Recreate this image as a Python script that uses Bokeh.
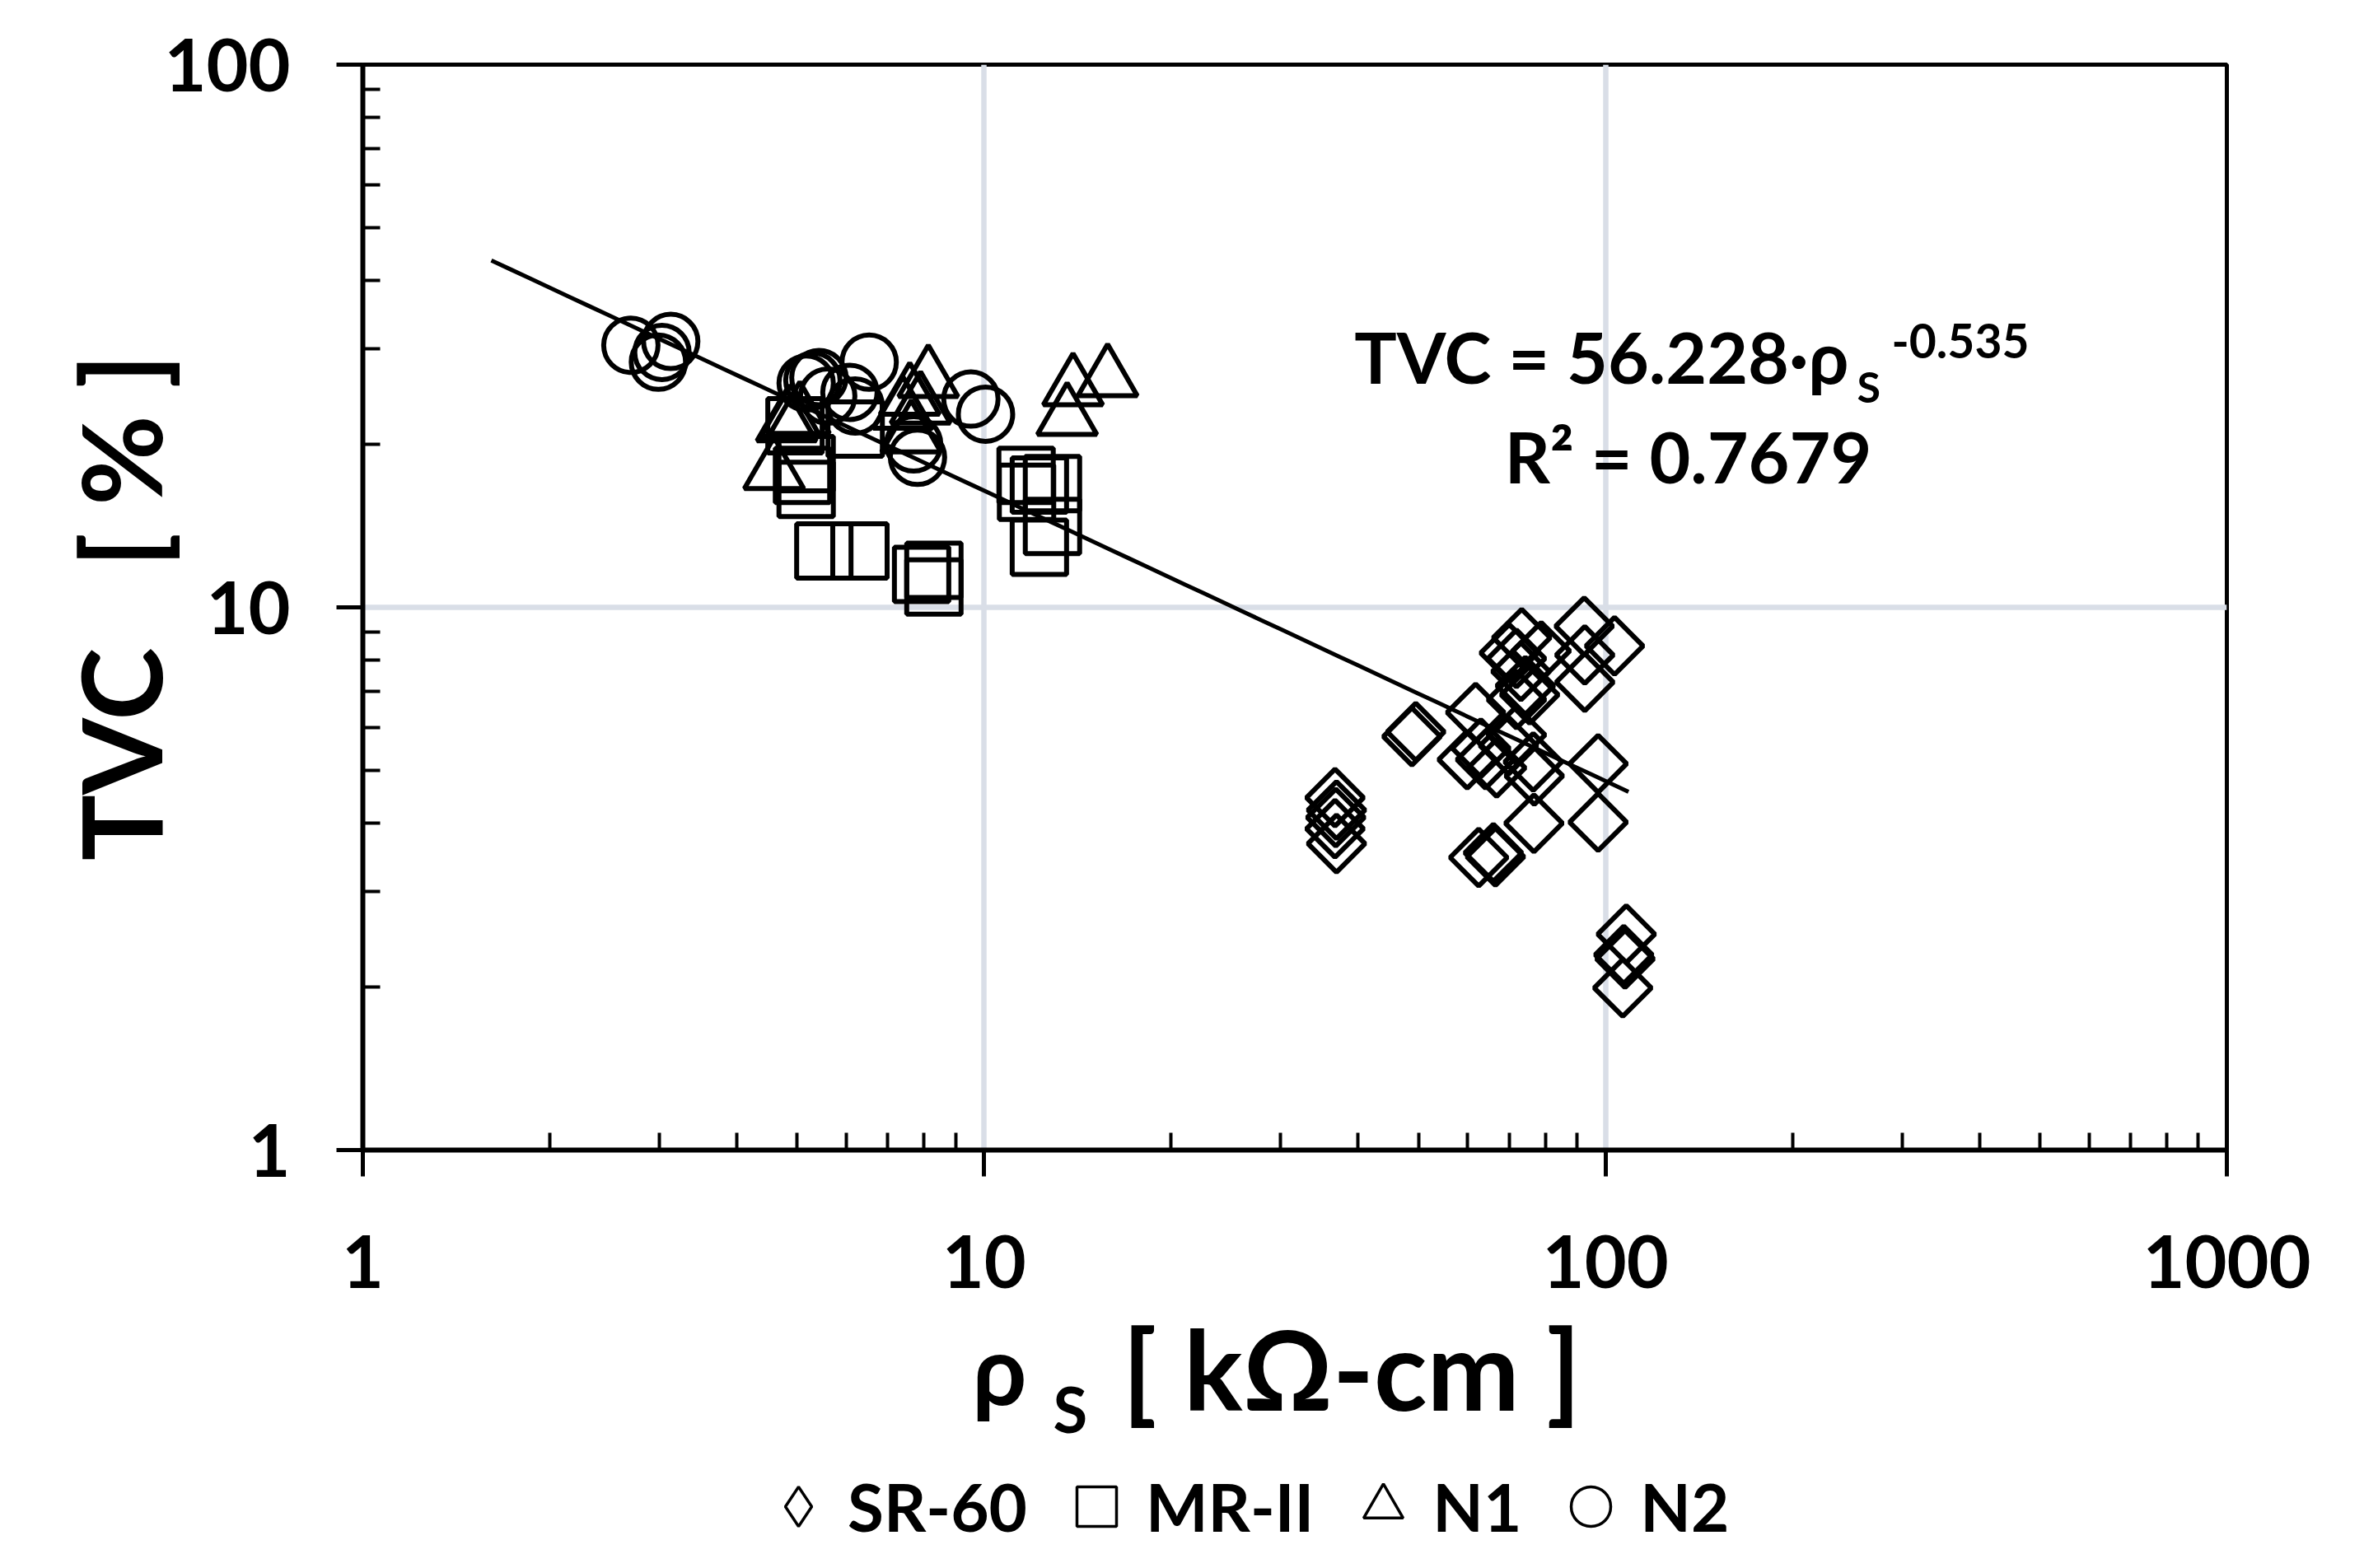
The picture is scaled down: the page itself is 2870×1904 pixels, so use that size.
import numpy as np
from bokeh.plotting import figure
from bokeh.layouts import column
from bokeh.models import FixedTicker, PrintfTickFormatter, Label, Legend, LegendItem
from bokeh.embed import file_html
from bokeh.resources import INLINE

FONT = "Lato, 'Open Sans', sans-serif"

# ---------------- data ----------------
series_names = ["SR-60", "MR-II", "N1", "N2"]

sr60_x = [48.8, 49.5, 36.7, 36.9, 36.7, 36.9, 36.8, 62.5, 66.0, 66.5, 76.7, 97.3, 97.3,
          61.8, 64.1, 66.8, 69.8, 76.5, 71.9, 76.8, 59.9, 63.0, 73.3, 78.8, 71.9, 73.1,
          74.3, 71.9, 70.0, 75.5, 92.4, 103.4, 92.6, 92.6, 108.0, 107.0, 107.5, 106.6]
sr60_y = [5.78, 5.90, 4.46, 4.23, 3.91, 3.67, 4.10, 3.46, 3.53, 3.47, 4.00, 4.02, 5.15,
          6.40, 5.24, 5.06, 5.56, 5.19, 5.82, 4.89, 5.24, 5.50, 8.79, 8.31, 8.05, 7.62,
          7.17, 6.76, 8.24, 6.90, 9.23, 8.49, 7.28, 8.17, 2.50, 2.29, 2.25, 1.99]

mr2_x = [4.96, 5.17, 5.17, 5.10, 6.20, 5.52, 6.31, 7.93, 8.30, 8.30, 11.68, 12.27, 12.88,
         12.88, 12.27, 11.70]
mr2_y = [21.6, 18.4, 16.5, 17.5, 21.3, 12.7, 12.7, 11.5, 11.7, 10.9, 17.5, 12.9, 16.9,
         14.1, 16.8, 16.3]

n1_x = [4.59, 4.81, 4.88, 5.05, 7.59, 8.13, 7.63, 7.90, 13.9, 15.8, 13.6, 7.40]
n1_y = [17.8, 21.8, 22.2, 22.5, 24.4, 26.3, 20.8, 23.5, 25.4, 26.4, 22.4, 23.0]

n2_x = [2.70, 3.13, 2.99, 3.03, 5.17, 5.30, 5.42, 6.53, 6.08, 6.20, 7.81, 7.70, 9.52,
        10.05, 5.60]
n2_y = [30.4, 30.9, 28.3, 29.5, 25.9, 26.2, 26.5, 28.3, 24.9, 23.5, 18.9, 20.0, 24.2,
        22.7, 24.5]

# power-law trend line  TVC = a * rho^b
fit_a = 56.228
fit_b = -0.535
fit_r2 = 0.7679
fit_x_start = 1.61
fit_x_end = 108.9

x_ticks = [1, 10, 100, 1000]
y_ticks = [1, 10, 100]

# ---------------- main figure ----------------
W = 2850
H_MAIN = 1620
H_BOTTOM = 314
OVERLAP = 40

p = figure(width=W, height=H_MAIN, x_axis_type="log", y_axis_type="log",
           x_range=(x_ticks[0], x_ticks[-1]), y_range=(y_ticks[0], y_ticks[-1]),
           output_backend="svg", toolbar_location=None, title=None,
           min_border_left=440, min_border_right=147, min_border_top=78,
           min_border_bottom=H_MAIN - 78 - 1318)
p.background_fill_color = "white"
p.border_fill_color = "white"
p.outline_line_color = "black"
p.outline_line_width = 5

def minor_for(ticks):
    return [m * t for t in ticks[:-1] for m in range(2, 10)]

p.xaxis.ticker = FixedTicker(ticks=x_ticks, minor_ticks=minor_for(x_ticks))
p.yaxis.ticker = FixedTicker(ticks=y_ticks, minor_ticks=minor_for(y_ticks))
for ax in (p.xaxis[0], p.yaxis[0]):
    ax.formatter = PrintfTickFormatter(format="%d")
    ax.axis_line_color = "black"
    ax.axis_line_width = 6
    ax.major_tick_line_color = "black"
    ax.major_tick_line_width = 5
    ax.minor_tick_line_color = "black"
    ax.minor_tick_line_width = 4
    ax.major_tick_in = 0
    ax.major_tick_out = 32
    ax.minor_tick_in = 21
    ax.minor_tick_out = 0
    ax.major_label_text_font = FONT
    ax.major_label_text_font_style = "bold"
    ax.major_label_text_font_size = "88px"
    ax.major_label_text_color = "black"
p.xaxis.major_label_standoff = 71
p.yaxis.major_label_standoff = 56

NB = "\u00a0"
p.yaxis.axis_label = f"TVC{NB}{NB}{NB}[{NB}%{NB}]"
p.yaxis.axis_label_text_font = FONT
p.yaxis.axis_label_text_font_style = "bold"
p.yaxis.axis_label_text_font_size = "134px"
p.yaxis.axis_label_text_color = "black"
p.yaxis.axis_label_standoff = -30

p.xgrid.ticker = FixedTicker(ticks=x_ticks[1:-1])
p.ygrid.ticker = FixedTicker(ticks=y_ticks[1:-1])
for g in (p.xgrid[0], p.ygrid[0]):
    g.grid_line_color = "#D9DEE7"
    g.grid_line_width = 6.5

common = dict(fill_color=None, line_color="black", line_width=6)
p.scatter(sr60_x, sr60_y, marker="square", angle=np.pi / 4, size=49, **common)
p.scatter(mr2_x, mr2_y, marker="square", size=66, **common)
p.scatter(n1_x, n1_y, marker="triangle", size=72, **common)
p.scatter(n2_x, n2_y, marker="circle", size=66, **common)

tx = np.geomspace(fit_x_start, fit_x_end, 60)
ty = fit_a * tx ** fit_b
p.line(tx, ty, line_color="black", line_width=5)

def lab(fig, text, x, y, size, align="left", baseline="alphabetic", angle=0.0):
    fig.add_layout(Label(x=x, y=y, x_units="screen", y_units="screen", text=text,
                         text_font=FONT, text_font_style="bold",
                         text_font_size=f"{size}px", text_align=align,
                         text_baseline=baseline, angle=angle, text_color="black"))

# regression annotation (inside the plot frame)
lab(p, f"TVC = {fit_a:.3f}\u00b7\u03c1", 1804, 964, 86, align="right")
lab(p, "S", 1814, 928, 52)
lab(p, f"{fit_b:.3f}", 1856, 983, 57)
lab(p, f"R\u00b2 = {fit_r2:.4f}", 1609, 843, 86, align="center")

# ---------------- bottom strip: x title + legend ----------------
p2 = figure(width=W, height=H_BOTTOM, x_range=(0, 1), y_range=(0, 1),
            x_axis_location=None, y_axis_location=None, output_backend="svg",
            toolbar_location=None, title=None, min_border=0)
p2.grid.visible = False
p2.outline_line_color = None
p2.background_fill_alpha = 0
p2.border_fill_alpha = 0
p2.margin = (-OVERLAP, 0, 0, 0)

# x-axis title  rho_S [ kOhm-cm ]  (screen units relative to the aligned frame)
lab(p2, "\u03c1", 806, 233, 116, align="right")
lab(p2, "S", 838, 184, 76)
lab(p2, f"[{NB}k\u03a9-cm{NB}]", 922, 233, 134)

# legend (glyph-only renderers without visible data)
nan1 = np.array([np.nan])
leg_common = dict(fill_color=None, line_color="black", line_width=3.5)
lr_sr = p2.scatter(nan1, nan1, marker="diamond", **leg_common)
lr_mr = p2.scatter(nan1, nan1, marker="square", **leg_common)
lr_n1 = p2.scatter(nan1, nan1, marker="triangle", **leg_common)
lr_n2 = p2.scatter(nan1, nan1, marker="circle", **leg_common)

legend = Legend(items=[LegendItem(label=n, renderers=[r]) for n, r in
                       zip(series_names, [lr_sr, lr_mr, lr_n1, lr_n2])],
                location=(469, 5), orientation="horizontal",
                glyph_width=120, glyph_height=120, label_height=120,
                label_standoff=0, spacing=24, padding=0, margin=0,
                border_line_alpha=0, background_fill_alpha=0,
                label_text_font=FONT, label_text_font_style="bold",
                label_text_font_size="80px", label_text_color="black")
p2.add_layout(legend, "center")

layout = column(p, p2, spacing=0)
open("out.html", "w").write(file_html(layout, INLINE))
